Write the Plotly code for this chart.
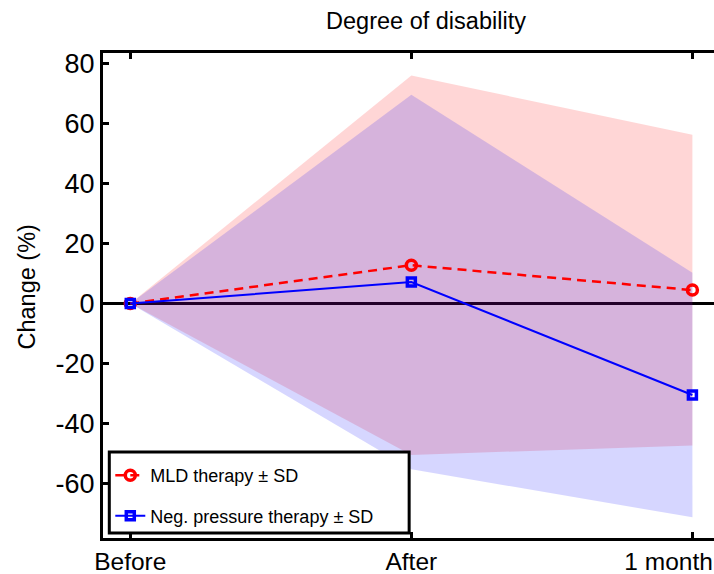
import plotly.graph_objects as go

# ---- data ----
timepoints = [1, 2, 3]
tick_labels = ["Before", "After", "1 month"]
mld_mean = [0, 12.8, 4.5]
mld_sd = [0, 63.3, 51.8]
neg_mean = [0, 7.2, -30.5]
neg_sd = [0, 62.5, 40.8]
y_ticks = [-60, -40, -20, 0, 20, 40, 60, 80]

FONT = "Liberation Sans, Arial, Helvetica, sans-serif"

def band(mean, sd):
    up = [m + s for m, s in zip(mean, sd)]
    lo = [m - s for m, s in zip(mean, sd)]
    return timepoints + timepoints[::-1], up + lo[::-1]

fig = go.Figure()

bx, by = band(mld_mean, mld_sd)
fig.add_trace(go.Scatter(x=bx, y=by, fill="toself", fillcolor="rgba(255,0,0,0.16)",
                         line=dict(width=0), mode="lines", showlegend=False, hoverinfo="skip"))
bx, by = band(neg_mean, neg_sd)
fig.add_trace(go.Scatter(x=bx, y=by, fill="toself", fillcolor="rgba(0,0,255,0.16)",
                         line=dict(width=0), mode="lines", showlegend=False, hoverinfo="skip"))

fig.add_trace(go.Scatter(x=timepoints, y=mld_mean, mode="lines+markers",
                         name="MLD therapy \u00b1 SD", legendgroup="a",
                         line=dict(color="red", width=2.5, dash="9px,6px"),
                         marker=dict(symbol="circle-open", size=10, color="red", line=dict(width=3.5))))
fig.add_trace(go.Scatter(x=timepoints, y=neg_mean, mode="lines+markers",
                         name="Neg. pressure therapy \u00b1 SD", legendgroup="b",
                         line=dict(color="blue", width=2),
                         marker=dict(symbol="square-open", size=8, color="blue", line=dict(width=3.5))))

W, H = 714, 574
L, T, B = 102.7, 52.7, 36
pw = W - L
ph = H - T - B
x_per = 281.2
x0 = 1 - 27.3 / x_per
x1 = 1 + (W - 130) / x_per

def px_to_paper_x(px):
    return (px - L) / pw

def px_to_paper_y(py):
    return (H - B - py) / ph

# keep the last tick label inside the page (pad with no-break spaces)
shown_labels = [t if i < len(tick_labels) - 1 else t + "\u00a0" * 7
                for i, t in enumerate(tick_labels)]

# legend box (white with black border)
fig.add_shape(type="rect", xref="paper", yref="paper",
              x0=px_to_paper_x(109), x1=px_to_paper_x(409),
              y0=px_to_paper_y(533), y1=px_to_paper_y(452),
              fillcolor="white", line=dict(color="black", width=3), layer="above")

fig.update_layout(
    width=W, height=H,
    margin=dict(l=L, r=0, t=T, b=B, autoexpand=False),
    plot_bgcolor="white", paper_bgcolor="white",
    font=dict(family=FONT, color="black"),
    title=dict(text="Degree of disability", x=426 / W, xref="container", xanchor="center",
               y=1 - 21 / H, yref="container", yanchor="middle",
               font=dict(size=23.5, family=FONT, color="black")),
    showlegend=True,
    legend=dict(x=px_to_paper_x(110), y=px_to_paper_y(457), xanchor="left", yanchor="top",
                bgcolor="rgba(0,0,0,0)", borderwidth=0, font=dict(size=18, family=FONT),
                traceorder="grouped", tracegroupgap=14),
    xaxis=dict(range=[x0, x1], tickvals=timepoints, ticktext=shown_labels,
               showgrid=False, zeroline=False, showline=True, linecolor="black", linewidth=3,
               mirror="ticks", ticks="inside", ticklen=6, tickwidth=3, tickcolor="black",
               ticklabeloverflow="allow",
               tickfont=dict(size=24.5, family=FONT, color="black")),
    yaxis=dict(range=[-78.2, 83.6], tickvals=y_ticks, ticktext=[str(v) for v in y_ticks],
               showgrid=False, zeroline=True, zerolinecolor="black", zerolinewidth=3,
               showline=True, linecolor="black", linewidth=3,
               ticks="inside", ticklen=6, tickwidth=3, tickcolor="black",
               tickfont=dict(size=27, family=FONT, color="black")),
)

fig.add_annotation(text="Change (%)", xref="paper", yref="paper",
                   x=px_to_paper_x(27), y=px_to_paper_y(287), textangle=-90,
                   showarrow=False, xanchor="center", yanchor="middle",
                   font=dict(size=23.5, family=FONT, color="black"))

fig.write_html("out.html", config={"displayModeBar": False},
               post_script="document.body.style.margin='0px';document.body.style.overflow='hidden';")
